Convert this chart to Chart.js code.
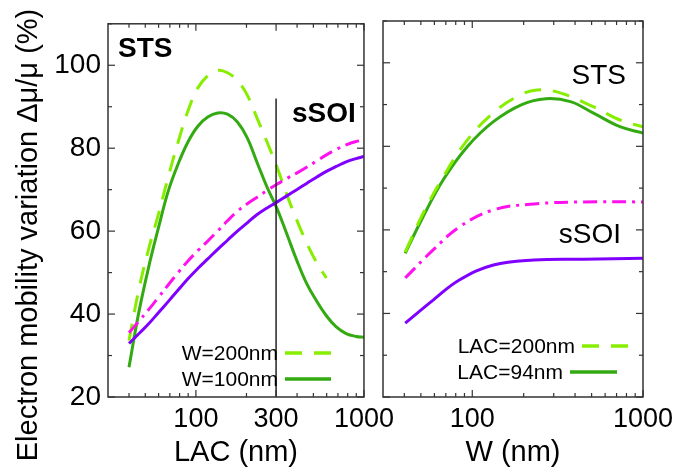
<!DOCTYPE html>
<html>
<head>
<meta charset="utf-8">
<script src="https://cdn.jsdelivr.net/npm/chart.js@4.4.1/dist/chart.umd.min.js"></script>
<style>
  html, body { margin: 0; padding: 0; background: #fff; }
  #wrap { position: relative; width: 687px; height: 470px; overflow: hidden; }
  #wrap canvas { position: absolute; top: 0; }
  #cLac { left: 0; }
  #cW { left: 375px; }
</style>
</head>
<body>
<div id="wrap">
  <canvas id="cLac" width="400" height="470"></canvas>
  <canvas id="cW" width="312" height="470"></canvas>
</div>
<script>
// ── DATA ─────────────────────────────────────────────────────────────────────
// left panel: mobility variation vs LAC (nm)
const LAC = [40, 45.6, 52.2, 59.8, 68.4, 78.4, 89.7, 102.7, 117.6, 134.7, 154.2, 176.6, 202.2,
             231.5, 265.1, 303.5, 347.6, 397.9, 455.7, 521.7, 597.4, 684, 783.2, 896.8, 1000];
const STS_W200  = [33.6, 45.6, 55.5, 64, 73, 81.5, 89, 94.5, 97.5, 98.8, 98.2, 96.3, 92.8,
                   87.2, 81.5, 75.5, 68.8, 62.7, 57.2, 52.5, 48.7];
const STS_W100  = [27.2, 40.1, 51.1, 60.7, 69.6, 76.2, 81.5, 85.3, 87.5, 88.5, 88.2, 86.3, 82.5,
                   76.5, 70.6, 65.5, 59.3, 53, 47.4, 43.2, 39.6, 36.9, 35.3, 34.6, 34.4];
const SSOI_W200 = [35.5, 38.2, 41, 44, 47, 50, 52.8, 55.3, 57.6, 60, 62.5, 64.8, 66.6,
                   68.2, 69.8, 71.3, 72.7, 74, 75.4, 76.9, 78.4, 79.7, 80.8, 81.6, 82];
const SSOI_W100 = [32.9, 35.2, 37.6, 40.3, 43, 45.8, 48.5, 51, 53.3, 55.6, 57.8, 60, 62,
                   64, 65.6, 67, 68.5, 70, 71.5, 73, 74.4, 75.6, 76.7, 77.5, 78];

const LAC_BOUNDARY = [300, 300];
const BOUNDARY_Y   = [20, 92];

// right panel: mobility variation vs W (nm)
const W_STS_200 = [40.5, 51.6, 67.6, 93.5, 133, 183, 240, 327, 510, 733, 1000];
const STS_L200  = [54.7, 64, 72.7, 81.5, 88, 91.9, 93.5, 92.8, 89.5, 86.3, 84.7];
const W_STS_94  = [40.5, 51.6, 67.6, 93.5, 133, 195, 270, 376, 510, 733, 1000];
const STS_L94   = [54.4, 63.2, 72, 79.9, 85.9, 90, 91.4, 90.7, 88, 84.7, 83.2];

const W_SSOI    = [40.5, 59, 84, 133, 230, 450, 1000];
const SSOI_L200 = [48.5, 55.2, 60.7, 64.8, 66.2, 66.7, 66.7];
const SSOI_L94  = [37.7, 43.2, 48, 51.6, 52.8, 53, 53.2];

// axes
const Y_TICKS   = [20, 40, 60, 80, 100];
const Y_MINOR   = [30, 50, 70, 90, 110];
const LAC_TICKS = [100, 300, 1000];
const W_TICKS   = [100, 1000];
const X_MINOR   = [40, 50, 60, 70, 80, 90, 200, 300, 400, 500, 600, 700, 800, 900];

const FONT = 'Arial, "Liberation Sans", sans-serif';
const C = { lime: '#88ee00', green: '#33aa11', magenta: '#ff11ee', purple: '#7f00ff', axis: '#333' };

const pts = (xs, ys) => ys.map((y, i) => ({ x: xs[i], y }));

function line(xs, ys, color, dash) {
  return {
    data: pts(xs, ys), borderColor: color, borderWidth: 3,
    borderDash: dash || [], pointRadius: 0, fill: false, tension: 0.4,
  };
}

// ── PLUGIN: framed box with inward ticks + annotations ──────────────────────
const frame = {
  id: 'frame',
  afterDraw(chart, args, opts) {
    const { ctx, chartArea: a, scales: { x, y } } = chart;
    ctx.save();
    ctx.strokeStyle = C.axis;
    ctx.lineWidth = 1.5;
    ctx.strokeRect(a.left, a.top, a.right - a.left, a.bottom - a.top);
    ctx.lineWidth = 1.2;
    const tick = (x1, y1, x2, y2) => { ctx.beginPath(); ctx.moveTo(x1, y1); ctx.lineTo(x2, y2); ctx.stroke(); };
    const xs = [...opts.xMajor.map(v => [v, 7]), ...X_MINOR.filter(v => !opts.xMajor.includes(v)).map(v => [v, 4])];
    xs.forEach(([v, l]) => {
      const px = x.getPixelForValue(v);
      tick(px, a.bottom, px, a.bottom - l);
      tick(px, a.top, px, a.top + l);
    });
    const ys = [...Y_TICKS.map(v => [v, 7]), ...Y_MINOR.map(v => [v, 4])];
    ys.forEach(([v, l]) => {
      const py = y.getPixelForValue(v);
      tick(a.left, py, a.left + l, py);
      tick(a.right, py, a.right - l, py);
    });
    // text annotations
    ctx.fillStyle = '#000';
    ctx.textBaseline = 'alphabetic';
    (opts.labels || []).forEach(t => {
      ctx.font = t.font;
      ctx.textAlign = t.align || 'left';
      ctx.fillText(t.text, t.x, t.y);
    });
    // legend samples
    (opts.legend || []).forEach(l => {
      ctx.font = '21px ' + FONT;
      ctx.textAlign = 'right';
      ctx.fillText(l.text, l.tx, l.ty);
      ctx.strokeStyle = l.color;
      ctx.lineWidth = 3.5;
      ctx.setLineDash(l.dash || []);
      tick(l.x1, l.ty - 7, l.x2, l.ty - 7);
      ctx.setLineDash([]);
    });
    if (opts.yTitle) {
      ctx.translate(29, 235);
      ctx.rotate(-Math.PI / 2);
      ctx.font = '29px ' + FONT;
      ctx.textAlign = 'center';
      ctx.textBaseline = 'middle';
      ctx.fillText(opts.yTitle, 0, 0);
    }
    ctx.restore();
  },
};

function baseOptions(xTicks, xTitle, yLabels, padding, yWidth, frameOpts) {
  return {
    responsive: false, animation: false,
    layout: { padding },
    plugins: { legend: { display: false }, tooltip: { enabled: false }, frame: frameOpts },
    scales: {
      x: {
        type: 'logarithmic', min: 30, max: 1000,
        grid: { display: false, drawTicks: false }, border: { display: false },
        afterBuildTicks: s => { s.ticks = xTicks.map(v => ({ value: v })); },
        afterFit: s => { s.height = 73; },
        ticks: { color: '#000', font: { family: FONT, size: 27 }, padding: 6, maxRotation: 0, autoSkip: false, callback: v => String(v) },
        title: { display: true, text: xTitle, color: '#000', font: { family: FONT, size: 29 }, padding: { top: 0, bottom: 0 } },
      },
      y: {
        min: 20, max: 110,
        grid: { display: false, drawTicks: false }, border: { display: false },
        afterBuildTicks: s => { s.ticks = Y_TICKS.map(v => ({ value: v })); },
        afterFit: s => { s.width = yWidth; },
        ticks: { display: yLabels, color: '#000', font: { family: FONT, size: 28 }, padding: 7 },
      },
    },
  };
}

// ── LEFT: vs LAC ─────────────────────────────────────────────────────────────
new Chart(document.getElementById('cLac'), {
  type: 'line',
  data: {
    datasets: [
      { ...line(LAC_BOUNDARY, BOUNDARY_Y, '#222'), borderWidth: 1.5, tension: 0 },
      line(LAC, SSOI_W200, C.magenta, [14, 6, 3, 6]),
      line(LAC, SSOI_W100, C.purple),
      line(LAC, STS_W200, C.lime, [17, 12]),
      line(LAC, STS_W100, C.green),
    ],
  },
  options: baseOptions(LAC_TICKS, 'LAC (nm)', true, { top: 21, right: 32, left: 0, bottom: 0 }, 108, {
    xMajor: LAC_TICKS,
    yTitle: 'Electron mobility variation \u0394\u03bc/\u03bc (%)',
    labels: [
      { text: 'STS', x: 118, y: 57, font: 'bold 28px ' + FONT },
      { text: 'sSOI', x: 292, y: 122, font: 'bold 28px ' + FONT },
    ],
    legend: [
      { text: 'W=200nm', tx: 278, ty: 360, x1: 285, x2: 331, color: C.lime, dash: [17, 12] },
      { text: 'W=100nm', tx: 278, ty: 386, x1: 285, x2: 331, color: C.green },
    ],
  }),
  plugins: [frame],
});

// ── RIGHT: vs W ──────────────────────────────────────────────────────────────
new Chart(document.getElementById('cW'), {
  type: 'line',
  data: {
    datasets: [
      line(W_SSOI, SSOI_L200, C.magenta, [14, 6, 3, 6]),
      line(W_SSOI, SSOI_L94, C.purple),
      line(W_STS_200, STS_L200, C.lime, [17, 12]),
      line(W_STS_94, STS_L94, C.green),
    ],
  },
  options: baseOptions(W_TICKS, 'W (nm)', false, { top: 21, right: 44, left: 0, bottom: 0 }, 8, {
    xMajor: W_TICKS,
    labels: [
      { text: 'STS', x: 626 - 375, y: 84, font: '28px ' + FONT, align: 'right' },
      { text: 'sSOI', x: 621 - 375, y: 243, font: '28px ' + FONT, align: 'right' },
    ],
    legend: [
      { text: 'LAC=200nm', tx: 575 - 375, ty: 353, x1: 582 - 375, x2: 628 - 375, color: C.lime, dash: [17, 12] },
      { text: 'LAC=94nm', tx: 563 - 375, ty: 379, x1: 570 - 375, x2: 617 - 375, color: C.green },
    ],
  }),
  plugins: [frame],
});
</script>
</body>
</html>
